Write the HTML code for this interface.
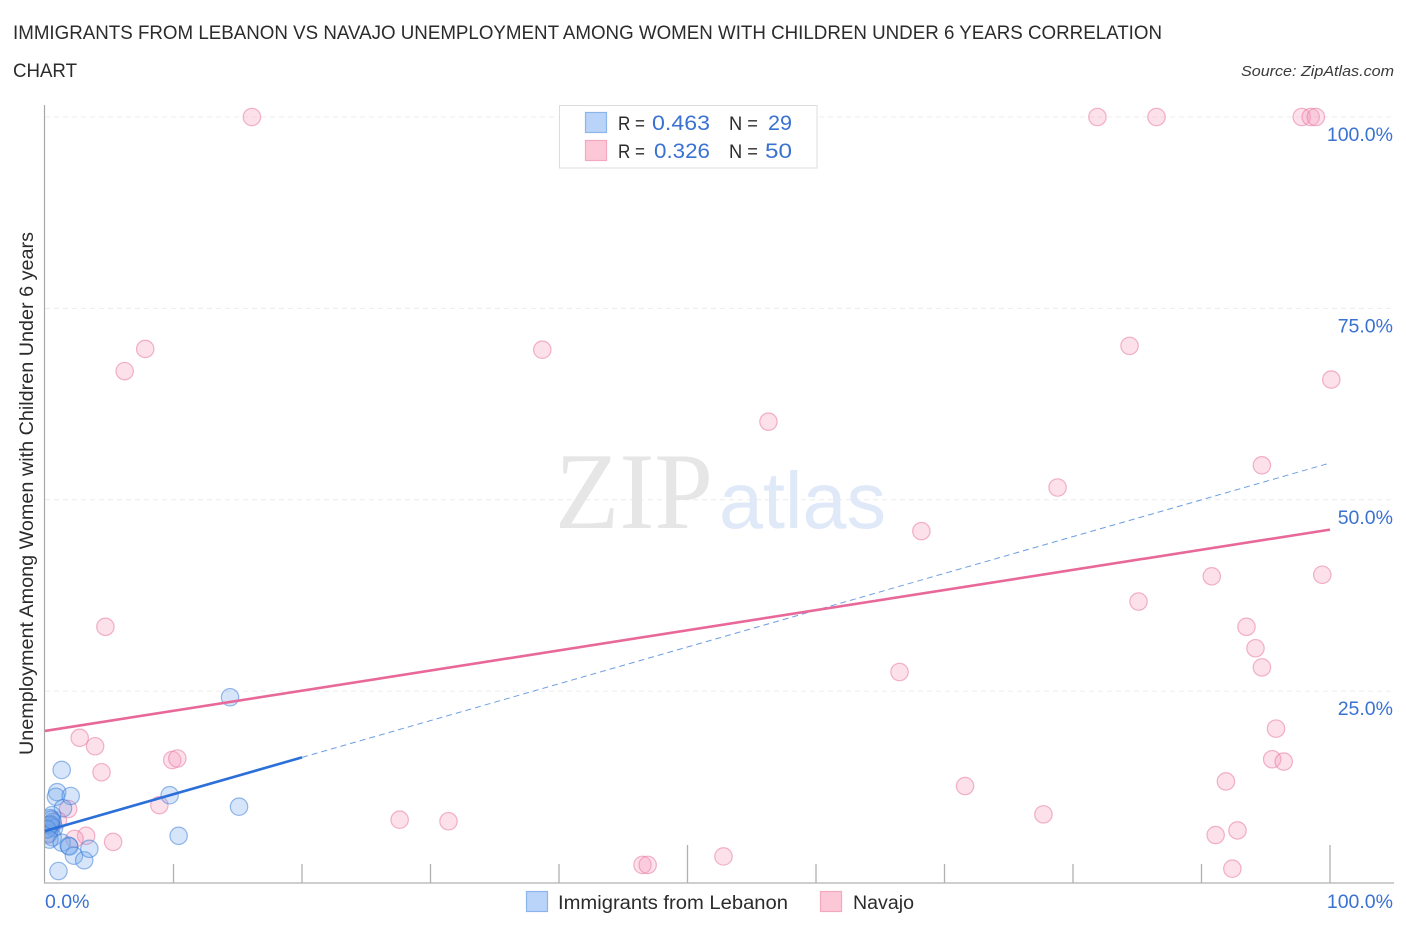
<!DOCTYPE html>
<html>
<head>
<meta charset="utf-8">
<title>Immigrants from Lebanon vs Navajo correlation chart</title>
<style>
html,body{margin:0;padding:0;background:#fff;width:1406px;height:930px;overflow:hidden}
svg{display:block}
text{font-family:"Liberation Sans",sans-serif}
</style>
</head>
<body>
<svg id="chart" width="1406" height="930" viewBox="0 0 1406 930" xmlns="http://www.w3.org/2000/svg">
  <defs>
    <clipPath id="plot-clip"><rect x="45" y="95" width="1360" height="790"/></clipPath>
  </defs>
  <rect width="1406" height="930" fill="#fff"/>
  <text x="13" y="39" font-size="19" fill="#2b2b2b" textLength="1149" lengthAdjust="spacingAndGlyphs">IMMIGRANTS FROM LEBANON VS NAVAJO UNEMPLOYMENT AMONG WOMEN WITH CHILDREN UNDER 6 YEARS CORRELATION</text>
  <text x="13" y="77" font-size="19" fill="#2b2b2b" textLength="64" lengthAdjust="spacingAndGlyphs">CHART</text>
  <text x="1241" y="76" font-size="15" font-style="italic" fill="#3a3a3a" textLength="153" lengthAdjust="spacingAndGlyphs">Source: ZipAtlas.com</text>

  <g id="grid"></g>

  <g>
    <text x="555" y="528" font-size="109" fill="#e6e6e6" style="font-family:'Liberation Serif',serif" textLength="158" lengthAdjust="spacingAndGlyphs">ZIP</text>
    <text x="719" y="528" font-size="80" fill="#dfe9f8" style="font-family:'Liberation Sans',sans-serif" textLength="167" lengthAdjust="spacingAndGlyphs">atlas</text>
  </g>

  <g id="axes"></g>
  <g clip-path="url(#plot-clip)">
    <g id="points-pink"></g>
    <g id="points-blue"></g>
  </g>
  <g id="trends"></g>
  <g id="tick-labels"></g>

  <text transform="translate(33,755) rotate(-90)" x="0" y="0" font-size="19" fill="#2b2b2b" textLength="523" lengthAdjust="spacingAndGlyphs">Unemployment Among Women with Children Under 6 years</text>

  <g>
    <rect x="559.5" y="105.5" width="257.5" height="62.5" fill="#fff" stroke="#dcdcdc" stroke-width="1"/>
    <rect x="585.5" y="112.5" width="21" height="20" fill="#b9d4f8" stroke="#8db5ea" stroke-width="1.2"/>
    <rect x="585.5" y="140.5" width="21" height="20" fill="#fcc8d8" stroke="#f2a9c0" stroke-width="1.2"/>
    <text x="618" y="130" font-size="19" fill="#2b2b2b" textLength="27" lengthAdjust="spacingAndGlyphs">R =</text>
    <text x="652" y="130" font-size="21" fill="#3a72d2" textLength="58" lengthAdjust="spacingAndGlyphs">0.463</text>
    <text x="729" y="130" font-size="19" fill="#2b2b2b" textLength="29" lengthAdjust="spacingAndGlyphs">N =</text>
    <text x="768" y="130" font-size="21" fill="#3a72d2" textLength="24" lengthAdjust="spacingAndGlyphs">29</text>
    <text x="618" y="158" font-size="19" fill="#2b2b2b" textLength="27" lengthAdjust="spacingAndGlyphs">R =</text>
    <text x="654" y="158" font-size="21" fill="#3a72d2" textLength="56" lengthAdjust="spacingAndGlyphs">0.326</text>
    <text x="729" y="158" font-size="19" fill="#2b2b2b" textLength="29" lengthAdjust="spacingAndGlyphs">N =</text>
    <text x="765" y="158" font-size="21" fill="#3a72d2" textLength="27" lengthAdjust="spacingAndGlyphs">50</text>
  </g>

  <g>
    <rect x="526.5" y="891.5" width="21" height="20" fill="#b9d4f8" stroke="#8db5ea" stroke-width="1.2"/>
    <text x="558" y="909" font-size="19" fill="#2b2b2b" textLength="230" lengthAdjust="spacingAndGlyphs">Immigrants from Lebanon</text>
    <rect x="820.5" y="891.5" width="21" height="20" fill="#fcc8d8" stroke="#f2a9c0" stroke-width="1.2"/>
    <text x="853" y="909" font-size="19" fill="#2b2b2b" textLength="61" lengthAdjust="spacingAndGlyphs">Navajo</text>
  </g>
</svg>
<script>
// Chart data (values in percent)
var yTickValues = [25, 50, 75, 100];
var yTickLabels = ['25.0%', '50.0%', '75.0%', '100.0%'];
var xTickValues = [10, 20, 30, 40, 50, 60, 70, 80, 90, 100];
var xMajorTicks = [50, 100];
var xEndLabels = ['0.0%', '100.0%'];
var lebanonX = [14.4, 1.3, 0.95, 0.85, 2.0, 9.7, 15.1, 10.4, 1.4, 0.55, 0.4, 0.6, 0.35, 0.5, 0.7, 0.15, 0.3, 0.45, 0.2, 0.6, 0.35, 0.5, 1.3, 1.85, 1.9, 2.25, 3.05, 3.45, 1.05];
var lebanonY = [24.2, 14.7, 11.8, 11.2, 11.3, 11.4, 9.9, 6.1, 9.7, 8.8, 8.4, 7.9, 7.5, 7.3, 7.1, 6.9, 6.4, 7.6, 7.0, 5.9, 5.6, 8.2, 5.2, 4.8, 4.7, 3.5, 2.9, 4.4, 1.5];
var navajoX = [16.1, 81.9, 86.5, 97.8, 98.5, 98.9, 7.8, 6.2, 38.7, 84.4, 100.1, 56.3, 94.7, 78.8, 68.2, 90.8, 99.4, 85.1, 4.7, 93.5, 94.2, 94.7, 66.5, 95.8, 2.7, 3.9, 4.4, 9.9, 10.3, 95.5, 96.4, 71.6, 91.9, 8.9, 27.6, 31.4, 77.7, 91.1, 92.8, 5.3, 3.2, 2.3, 46.5, 46.9, 52.8, 92.4, 1.8, 1.0, 0.4, 0.2];
var navajoY = [100, 100, 100, 100, 100, 100, 69.7, 66.8, 69.6, 70.1, 65.7, 60.2, 54.5, 51.6, 45.9, 40.0, 40.2, 36.7, 33.4, 33.4, 30.6, 28.1, 27.5, 20.1, 18.9, 17.8, 14.4, 16.0, 16.2, 16.1, 15.8, 12.6, 13.2, 10.1, 8.2, 8.0, 8.9, 6.2, 6.8, 5.3, 6.1, 5.7, 2.3, 2.3, 3.4, 1.8, 9.6, 8.1, 7.5, 6.2];
var lebanonTrendDomain = [0, 20];
var lebanonTrendExtendedDomain = [20, 100];
var lebanonTrendValues = [6.73, 54.8];
var navajoTrendDomain = [0, 100];
var navajoTrendValues = [19.8, 46.1];

// Axis functions
function xScale(v) { return 45 + v * 12.85; }
function yScale(v) { return 882.5 - v * 7.655; }
function lebanonTrendAt(v) {
  return lebanonTrendValues[0] + (lebanonTrendValues[1] - lebanonTrendValues[0]) * v / 100;
}
function navajoTrendAt(v) {
  return navajoTrendValues[0] + (navajoTrendValues[1] - navajoTrendValues[0]) * v / 100;
}

var NS = 'http://www.w3.org/2000/svg';
function make(tag, parent, props) {
  var el = document.createElementNS(NS, tag);
  for (var k in props) { el.setAttribute(k, props[k]); }
  parent.appendChild(el);
  return el;
}

var grid = document.getElementById('grid');
var axes = document.getElementById('axes');
var labels = document.getElementById('tick-labels');
var bluePts = document.getElementById('points-blue');
var pinkPts = document.getElementById('points-pink');
var trends = document.getElementById('trends');

yTickValues.forEach(function (v, i) {
  var line = make('line', grid, {x1: 45, x2: 1394, y1: yScale(v), y2: yScale(v), stroke: '#ececec', 'stroke-width': 1, 'stroke-dasharray': '5 4'});
  
  
  var t = make('text', labels, {x: 1393, y: yScale(v) + 24, 'text-anchor': 'end', 'font-size': 19.5, fill: '#3a72d2'});
  t.textContent = yTickLabels[i];
  
  
});

var yAxis = make('line', axes, {x1: 44.5, x2: 44.5, y1: 105, y2: 883, stroke: '#a8a8a8', 'stroke-width': 1.2});


var xAxis = make('line', axes, {x1: 44, x2: 1394, y1: 883, y2: 883, stroke: '#bdbdbd', 'stroke-width': 1.5});



xTickValues.forEach(function (v) {
  var isMajor = xMajorTicks.indexOf(v) >= 0;
  var tick = make('line', axes, {x1: xScale(v), x2: xScale(v), y1: isMajor ? 845 : 864, y2: 883, stroke: '#b0b0b0', 'stroke-width': 1.3});
  
  
});

var x0Label = make('text', labels, {x: 45, y: 908, 'font-size': 19.5, fill: '#3a72d2'});
x0Label.textContent = xEndLabels[0];


var x1Label = make('text', labels, {x: 1393, y: 908, 'text-anchor': 'end', 'font-size': 19.5, fill: '#3a72d2'});
x1Label.textContent = xEndLabels[1];



navajoX.forEach(function (v, i) {
  var c = make('circle', pinkPts, {cx: xScale(v), cy: yScale(navajoY[i]), r: 8.7, fill: 'rgba(247,160,190,0.32)', stroke: 'rgba(232,120,160,0.55)', 'stroke-width': 1.2});
  
  
});

lebanonX.forEach(function (v, i) {
  var c = make('circle', bluePts, {cx: xScale(v), cy: yScale(lebanonY[i]), r: 8.7, fill: 'rgba(120,170,235,0.3)', stroke: 'rgba(50,120,215,0.5)', 'stroke-width': 1.2});
  
  
});

var extLine = make('line', trends, {
  x1: xScale(lebanonTrendExtendedDomain[0]), y1: yScale(lebanonTrendAt(lebanonTrendExtendedDomain[0])),
  x2: xScale(lebanonTrendExtendedDomain[1]), y2: yScale(lebanonTrendAt(lebanonTrendExtendedDomain[1])),
  stroke: '#4a86dc', 'stroke-width': 1, 'stroke-dasharray': '6 4', opacity: 0.8
});



var navLine = make('line', trends, {
  x1: xScale(navajoTrendDomain[0]), y1: yScale(navajoTrendAt(navajoTrendDomain[0])),
  x2: xScale(navajoTrendDomain[1]), y2: yScale(navajoTrendAt(navajoTrendDomain[1])),
  stroke: '#e8689a', 'stroke-width': 2.6
});



var lebLine = make('line', trends, {
  x1: xScale(lebanonTrendDomain[0]), y1: yScale(lebanonTrendAt(lebanonTrendDomain[0])),
  x2: xScale(lebanonTrendDomain[1]), y2: yScale(lebanonTrendAt(lebanonTrendDomain[1])),
  stroke: '#2b6fd8', 'stroke-width': 2.6
});


</script>
</body>
</html>
